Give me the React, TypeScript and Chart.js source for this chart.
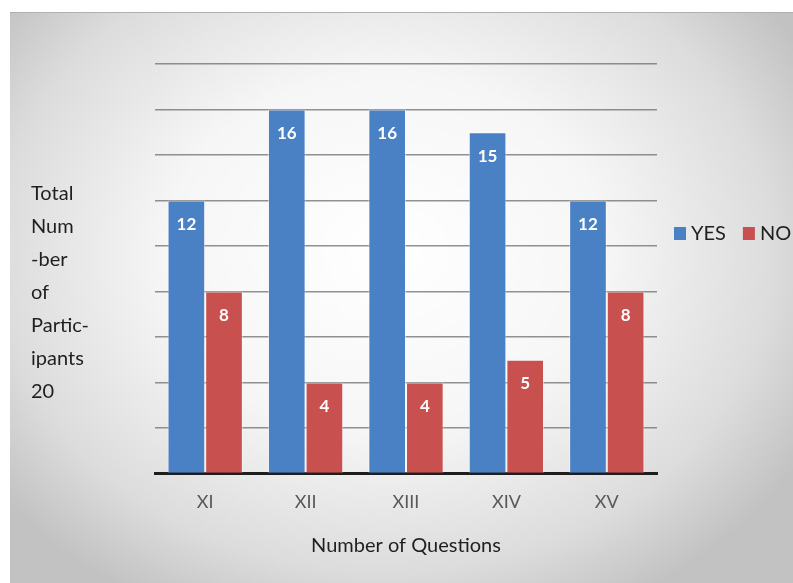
import React, { useEffect, useRef } from "react";
import { Chart, registerables } from "chart.js";

Chart.register(...registerables);

const categories = ["XI", "XII", "XIII", "XIV", "XV"];
const yesValues = [12, 16, 16, 15, 12];
const noValues = [8, 4, 4, 5, 8];
const seriesNames = ["YES", "NO"];
const yTitleLines = ["Total", "Num", "-ber", "of", "Partic-", "ipants", "20"];
const xTitle = "Number of Questions";

const BLUE = "#4a80c4";
const RED = "#c8504e";
const FONT = "Lato, 'Open Sans', sans-serif";

const labelPlugin = {
  id: "barLabels",
  afterDatasetsDraw(chart: any) {
    const ctx = chart.ctx;
    ctx.save();
    ctx.fillStyle = "#ffffff";
    ctx.font = `bold 17px ${FONT}`;
    ctx.textAlign = "center";
    ctx.textBaseline = "middle";
    chart.data.datasets.forEach((ds: any, i: number) => {
      const meta = chart.getDatasetMeta(i);
      meta.data.forEach((el: any, j: number) => {
        ctx.fillText(String(ds.data[j]), el.x, el.y + 24);
      });
    });
    ctx.restore();
  },
};

const decorPlugin = {
  id: "decor",
  afterDraw(chart: any) {
    const ctx = chart.ctx;
    ctx.save();
    // y-axis title (stacked lines on the left)
    ctx.fillStyle = "#1f1f1f";
    ctx.font = `20px ${FONT}`;
    ctx.textAlign = "left";
    ctx.textBaseline = "middle";
    yTitleLines.forEach((t, i) => {
      ctx.fillText(t, 31, 194 + i * 33);
    });
    // legend
    const colors = [BLUE, RED];
    ctx.font = `20px ${FONT}`;
    let x = 674;
    const y = 234;
    seriesNames.forEach((n, i) => {
      ctx.fillStyle = colors[i];
      ctx.fillRect(x, y - 7, 12, 13);
      ctx.fillStyle = "#1f1f1f";
      ctx.fillText(n, x + 17, y);
      x += 17 + ctx.measureText(n).width + 17;
    });
    ctx.restore();
  },
};

export default function App() {
  const ref = useRef<HTMLCanvasElement | null>(null);
  useEffect(() => {
    if (!ref.current) return;
    const chart = new Chart(ref.current, {
      type: "bar",
      data: {
        labels: categories,
        datasets: [
          {
            label: seriesNames[0],
            data: yesValues,
            backgroundColor: BLUE,
            borderColor: "rgba(255,255,255,0.5)",
            borderWidth: 1,
            categoryPercentage: 0.75,
            barPercentage: 1,
          },
          {
            label: seriesNames[1],
            data: noValues,
            backgroundColor: RED,
            borderColor: "rgba(255,255,255,0.5)",
            borderWidth: 1,
            categoryPercentage: 0.75,
            barPercentage: 1,
          },
        ],
      },
      options: {
        animation: false,
        responsive: false,
        maintainAspectRatio: false,
        layout: { padding: { left: 155, right: 136, top: 64, bottom: 21 } },
        plugins: {
          legend: { display: false },
          tooltip: { enabled: false },
        },
        scales: {
          x: {
            grid: { display: false, drawTicks: false },
            border: { display: true, color: "#1e1e1e", width: 3 },
            ticks: {
              color: "#595959",
              font: { family: FONT, size: 18 },
              padding: 18,
            },
            title: {
              display: true,
              text: xTitle,
              color: "#1f1f1f",
              font: { family: FONT, size: 20 },
              padding: { top: 3, bottom: 4 },
            },
          },
          y: {
            min: 0,
            max: 18,
            ticks: { display: false, stepSize: 2 },
            grid: {
              color: "rgba(110,110,110,0.75)",
              lineWidth: 1.5,
              drawTicks: false,
            },
            border: { display: false },
          },
        },
      },
      plugins: [labelPlugin, decorPlugin],
    });
    return () => chart.destroy();
  }, []);

  return (
    <div
      style={{
        position: "absolute",
        left: 0,
        top: 0,
        width: 793,
        height: 583,
        background: "#ffffff",
        overflow: "hidden",
      }}
    >
      <div
        style={{
          position: "absolute",
          left: 10,
          top: 12,
          width: 783,
          height: 571,
          borderTop: "1px solid #b0b0b0",
          background:
            "radial-gradient(ellipse 62% 70% at 48% 42%, #ffffff 0%, #f6f6f6 45%, #dcdcdc 80%, #c2c2c2 100%)",
        }}
      />
      <canvas
        ref={ref}
        width={793}
        height={583}
        style={{ position: "absolute", left: 0, top: 0, width: 793, height: 583 }}
      />
    </div>
  );
}
